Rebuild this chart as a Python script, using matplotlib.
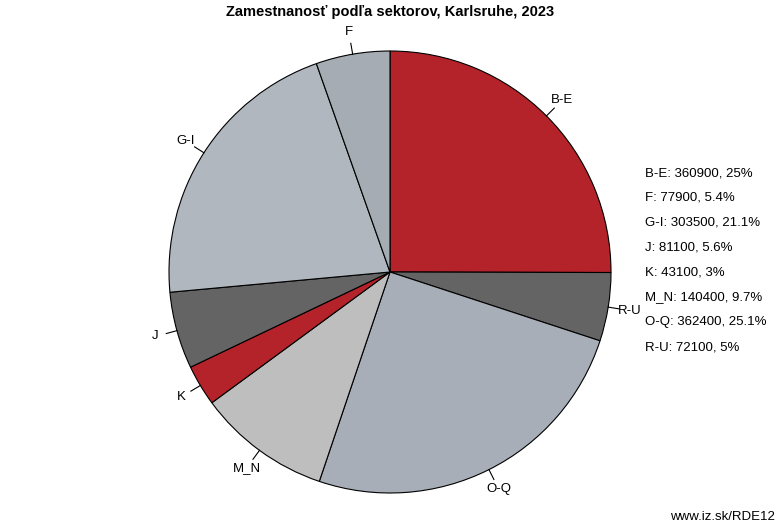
import matplotlib
matplotlib.use("Agg")
import matplotlib.pyplot as plt
import numpy as np

plt.rcParams['font.family'] = ['Liberation Sans', 'DejaVu Sans']

labels = ["B-E", "R-U", "O-Q", "M_N", "K", "J", "G-I", "F"]
values = [360900, 72100, 362400, 140400, 43100, 81100, 303500, 77900]
colors = ["#B5232A", "#646464", "#A7AEB7", "#BEBEBE", "#B5232A", "#646464", "#B0B7BF", "#A5ACB4"]
legend_labels = ["B-E: 360900, 25%", "F: 77900, 5.4%", "G-I: 303500, 21.1%", "J: 81100, 5.6%",
                 "K: 43100, 3%", "M_N: 140400, 9.7%", "O-Q: 362400, 25.1%", "R-U: 72100, 5%"]

W, H = 782, 532
fig = plt.figure(figsize=(W/100, H/100), dpi=100)
cx, cy, r = 390, 272, 221
ax = fig.add_axes([(cx-r)/W, 1-(cy+r)/H, 2*r/W, 2*r/H])
wedges, _ = ax.pie(values, colors=colors, startangle=90, counterclock=False,
                   wedgeprops=dict(edgecolor="black", linewidth=0.8))
ax.set_xlim(-1, 1); ax.set_ylim(-1, 1); ax.set_aspect("equal")
for w, lab in zip(wedges, labels):
    a = np.deg2rad((w.theta1 + w.theta2) / 2)
    x, y = np.cos(a), np.sin(a)
    ax.plot([x, 1.05*x], [y, 1.05*y], color="black", lw=0.8, clip_on=False)
    ax.text(1.1*x, 1.1*y, lab, ha="center", va="center", fontsize=9.5, clip_on=False)

fig.text(390/W, 1-12/H, "Zamestnanosť podľa sektorov, Karlsruhe, 2023", ha="center", va="center",
         fontsize=10.5, fontweight="bold")
for i, t in enumerate(legend_labels):
    fig.text(645/W, 1-(173+24.9*i)/H, t, ha="left", va="center", fontsize=9.5)
fig.text(775/W, 1-517/H, "www.iz.sk/RDE12", ha="right", va="center", fontsize=9.5)
fig.savefig("out.png", dpi=100)
